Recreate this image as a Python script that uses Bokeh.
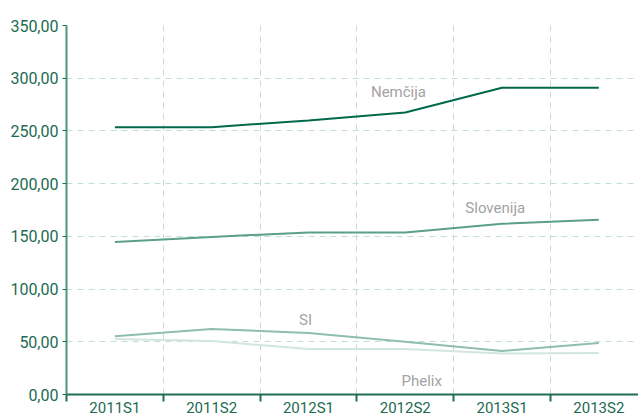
from bokeh.plotting import figure
from bokeh.models import ColumnDataSource, FixedTicker, CustomJSTickFormatter, Range1d
from bokeh.core.properties import value
from bokeh.embed import file_html
from bokeh.resources import INLINE

categories = ["2011S1", "2011S2", "2012S1", "2012S2", "2013S1", "2013S2"]
nemcija = [253.5, 253.5, 260.0, 267.5, 291.0, 291.0]
slovenija = [144.7, 149.5, 153.7, 153.7, 162.0, 165.8]
si = [55.2, 62.1, 58.3, 50.0, 41.3, 48.9]
phelix = [52.6, 50.7, 43.1, 43.1, 38.8, 39.4]
y_ticks = [0, 50, 100, 150, 200, 250, 300, 350]

FONT = "Roboto"
idx = list(range(len(categories)))

p = figure(width=638, height=419, output_backend="svg", toolbar_location=None,
           x_range=Range1d(-0.5, 5.41), y_range=Range1d(0, 350),
           min_border_left=66, min_border_top=25, min_border_right=0,
           min_border_bottom=20, outline_line_color=None)
p.background_fill_color = "white"

series = [
    (phelix, "#d3e6de", 2),
    (si, "#8fbeae", 2),
    (slovenija, "#5c9f89", 2),
    (nemcija, "#00694b", 2),
]
for vals, col, w in series:
    src = ColumnDataSource(dict(x=idx, y=vals))
    p.line("x", "y", source=src, line_color=col, line_width=w)

# series labels
lab = ColumnDataSource(dict(
    x=[2.93, 3.93, 1.97, 3.17],
    y=[286.5, 177, 71, 13],
    t=["Nemčija", "Slovenija", "SI", "Phelix"],
))
p.text("x", "y", text="t", source=lab, text_color="#a3a3a3",
       text_font=value(FONT), text_font_size="15px",
       text_align="center", text_baseline="middle")

# x axis
xa = p.xaxis[0]
xa.ticker = FixedTicker(ticks=idx, minor_ticks=[i + 0.5 for i in range(-1, 6)])
xa.major_label_overrides = {i: c for i, c in enumerate(categories)}
xa.major_tick_line_color = None
xa.major_tick_in = 0
xa.major_tick_out = 0
xa.minor_tick_line_color = "#1f6e54"
xa.minor_tick_line_width = 2
xa.minor_tick_in = 0
xa.minor_tick_out = 7
xa.axis_line_color = "#1f6e54"
xa.axis_line_width = 2
xa.major_label_text_font = FONT
xa.major_label_text_font_size = "15px"
xa.major_label_text_color = "#1d6b52"
xa.major_label_standoff = -3

# y axis
ya = p.yaxis[0]
ya.ticker = FixedTicker(ticks=y_ticks)
ya.formatter = CustomJSTickFormatter(code="return tick.toFixed(2).replace('.', ',');")
ya.axis_line_color = "#4b9482"
ya.axis_line_width = 2
ya.major_tick_line_color = "#1f6e54"
ya.major_tick_in = 0
ya.major_tick_out = 4
ya.minor_tick_line_color = None
ya.major_label_text_font = FONT
ya.major_label_text_font_size = "16px"
ya.major_label_text_color = "#1d6b52"
ya.major_label_standoff = 4

# grids
p.xgrid.grid_line_color = None
p.xgrid.minor_grid_line_color = "#c2ddd3"
p.xgrid.minor_grid_line_dash = "6 5"
p.xgrid.minor_grid_line_width = 1
p.ygrid.ticker = FixedTicker(ticks=y_ticks[1:-1])
p.ygrid.grid_line_color = "#c2ddd3"
p.ygrid.grid_line_dash = "6 5"
p.ygrid.grid_line_width = 1

open("out.html", "w").write(file_html(p, INLINE))
